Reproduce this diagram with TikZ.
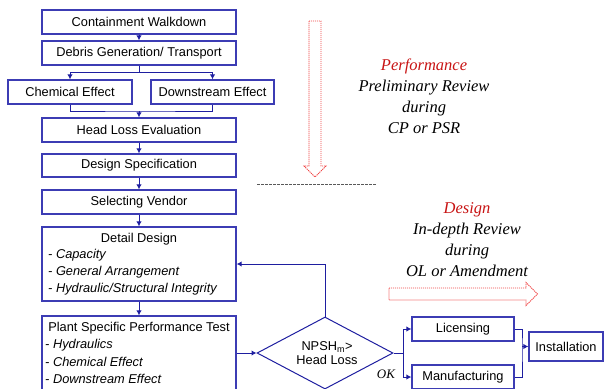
\documentclass[tikz,border=0pt]{standalone}
\usepackage{fontspec}
\setmainfont{Liberation Sans}
\newfontfamily\serifit{Liberation Serif}
\usetikzlibrary{arrows.meta,shapes.geometric}
\definecolor{flowblue}{RGB}{30,30,160}
\definecolor{boxblue}{RGB}{60,60,180}
\definecolor{hintred}{RGB}{240,70,70}
\definecolor{titlered}{RGB}{200,20,20}
\begin{document}
\begin{tikzpicture}[x=1pt,y=-1pt,
  box/.style={draw=boxblue,line width=1.3pt,rectangle,inner sep=0pt,
    font=\fontsize{12.8}{15}\selectfont},
  flow/.style={draw=flowblue,line width=1pt},
  arr/.style={flow,-{Latex[length=5pt,width=5.5pt]}},
  txt/.style={inner sep=0pt,font=\fontsize{12.8}{15}\selectfont},
  itm/.style={txt,anchor=west,font=\fontsize{12.8}{15}\selectfont\itshape},
  note/.style={inner sep=0pt,align=center,
    font=\fontsize{16.5}{21}\selectfont\serifit\itshape},
  hint/.style={draw=hintred,line width=0.9pt,dash pattern=on 1.2pt off 0.8pt,fill=white}
]
\useasboundingbox (0,0) rectangle (604,388);

% main chain
\node[box,minimum width=194pt,minimum height=24pt] (cw) at (139,22) {Containment Walkdown};
\node[box,minimum width=194pt,minimum height=24pt] (dg) at (139,53) {Debris Generation/ Transport};
\node[box,minimum width=124pt,minimum height=24pt] (ce) at (70,92) {Chemical Effect};
\node[box,minimum width=123pt,minimum height=24pt] (de) at (212.5,92) {Downstream Effect};
\node[box,minimum width=194pt,minimum height=24pt] (hl) at (139,130) {Head Loss Evaluation};
\node[box,minimum width=194pt,minimum height=23pt] (ds) at (139,165.5) {Design Specification};
\node[box,minimum width=194pt,minimum height=24pt] (sv) at (139,202) {Selecting Vendor};
\node[box,minimum width=194pt,minimum height=74pt] (dd) at (139,264) {};
\node[box,minimum width=194pt,minimum height=74pt] (pt) at (139,353) {};

% text inside the two tall boxes
\node[txt] (ddt) at (139,239) {Detail Design};
\node[itm] (dd1) at (48,255.5) {- Capacity};
\node[itm] (dd2) at (48,272.5) {- General Arrangement};
\node[itm] (dd3) at (48,289.5) {- Hydraulic/Structural Integrity};
\node[txt] (ptt) at (139,328.5) {Plant Specific Performance Test};
\node[itm] (pt1) at (45,345.5) {- Hydraulics};
\node[itm] (pt2) at (45,362) {- Chemical Effect};
\node[itm] (pt3) at (45,378.5) {- Downstream Effect};

% decision
\node[draw=flowblue,line width=1pt,diamond,inner sep=0pt,
  minimum width=136pt,minimum height=72pt] (dia) at (325,353) {};
\node[txt,align=center] (diat) at (327,353.5)
  {NPSH\textsubscript{m}>\\[-1pt]Head Loss};
\node[inner sep=0pt,font=\fontsize{13}{15}\selectfont\serifit\itshape] (ok) at (386,374) {OK};

% final steps
\node[box,minimum width=102pt,minimum height=24pt] (lic) at (463,329) {Licensing};
\node[box,minimum width=102pt,minimum height=24pt] (man) at (463,377) {Manufacturing};
\node[box,minimum width=74pt,minimum height=29pt] (ins) at (566,346.5) {Installation};

% junctions
\coordinate (j1) at (139,72);
\coordinate (j2) at (139,111);
\coordinate (j3) at (403,353);
\coordinate (j4) at (522,346.5);

% connectors
\draw[arr] (cw) -- (dg);
\draw[flow] (dg.south) -- (j1);
\draw[arr] (j1) -| (ce.north);
\draw[arr] (j1) -| (de.north);
\draw[flow] (ce.south) |- (j2) -| (de.south);
\draw[arr] (j2) -- (hl.north);
\draw[arr] (hl) -- (ds);
\draw[arr] (ds) -- (sv);
\draw[arr] (sv) -- (dd);
\draw[arr] (dd) -- (pt);
\draw[arr] (pt.east) -- (dia.west);
\draw[arr] (dia.north) |- (dd.east);
\draw[flow] (dia.east) -- (j3);
\draw[arr] (j3) |- (lic.west);
\draw[arr] (j3) |- (man.west);
\draw[flow] (lic.east) -| (j4) |- (man.east);
\draw[arr] (j4) -- (ins.west);

% review phases
\draw[hint] (309,21) -- (321,21) -- (321,166) -- (326,166) -- (315,177)
  -- (304,166) -- (309,166) -- cycle;
\draw[gray!70!black,line width=0.7pt,dash pattern=on 2.5pt off 1.5pt] (257,184) -- (377,184);
\draw[hint] (389,288) -- (526,288) -- (526,282.5) -- (537.5,294) -- (526,305.5)
  -- (526,300) -- (389,300) -- cycle;

\node[note] (perf) at (424,96.5)
  {\textcolor{titlered}{Performance}\\Preliminary Review\\during\\CP or PSR};
\node[note] (desg) at (467,239.5)
  {\textcolor{titlered}{Design}\\In-depth Review\\during\\OL or Amendment};
\end{tikzpicture}
\end{document}
